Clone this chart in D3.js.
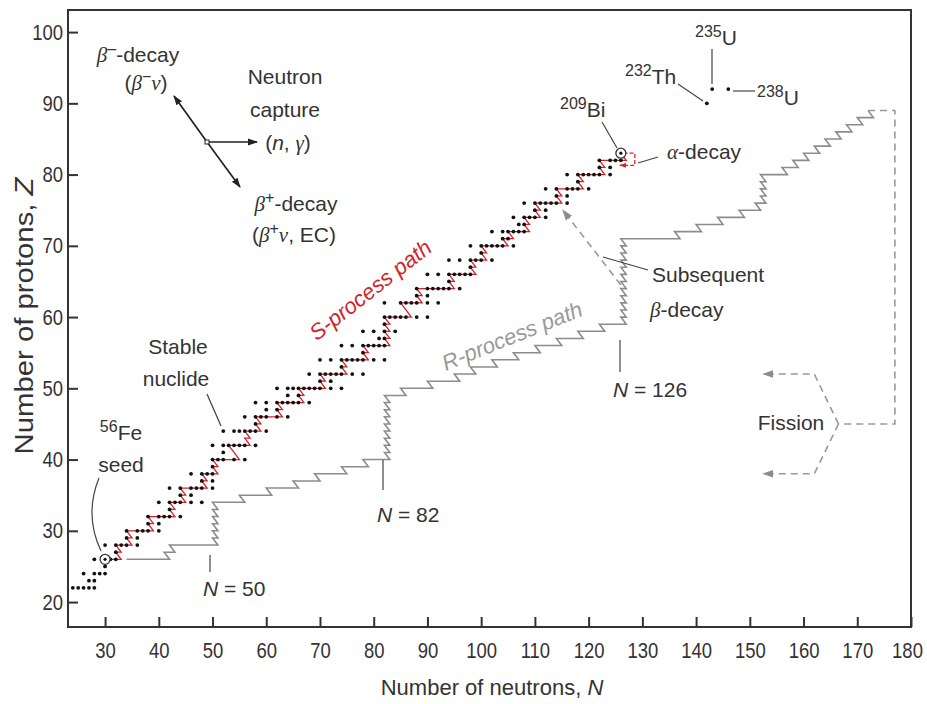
<!DOCTYPE html>
<html>
<head>
<meta charset="utf-8">
<title>s-process and r-process paths</title>
<script src="https://d3js.org/d3.v7.min.js"></script>
<style>
body { margin: 0; background: #fff; }
svg text { font-family: "Liberation Sans", Arial, sans-serif; fill: #333; font-size: 21px; }
svg .gr { font-family: "Liberation Serif", "Times New Roman", serif; font-style: italic; }
</style>
</head>
<body>
<div id="chart"></div>
<script>
// stable nuclides, one list of neutron numbers per element
var stableZ = [22, 23, 24, 25, 26, 27, 28, 29, 30, 31, 32, 33, 34, 35, 36, 37, 38, 39, 40, 41, 42,
  44, 45, 46, 47, 48, 49, 50, 51, 52, 53, 54, 55, 56, 57, 58, 59, 60, 62, 63, 64, 65, 66, 67, 68,
  69, 70, 71, 72, 73, 74, 75, 76, 77, 78, 79, 80, 81, 82, 83];
var stableN = [
  [24, 25, 26, 27, 28], [27, 28], [26, 28, 29, 30], [30], [28, 30, 31, 32], [32], [30, 32, 33, 34, 36],
  [34, 36], [34, 36, 37, 38, 40], [38, 40], [38, 40, 41, 42, 44], [42], [40, 42, 43, 44, 46, 48],
  [44, 46], [42, 44, 46, 47, 48, 50], [48, 50], [46, 48, 49, 50], [50], [50, 51, 52, 54, 56], [52],
  [50, 52, 53, 54, 55, 56, 58],
  [52, 54, 55, 56, 57, 58, 60], [58], [56, 58, 59, 60, 62, 64], [60, 62], [58, 60, 62, 63, 64, 65, 66, 68],
  [64, 66], [62, 64, 65, 66, 67, 68, 69, 70, 72, 74], [70, 72], [68, 70, 71, 72, 73, 74, 76, 78], [74],
  [70, 72, 74, 75, 76, 77, 78, 80, 82], [78], [74, 76, 78, 79, 80, 81, 82], [81, 82], [78, 80, 82, 84],
  [82], [82, 83, 84, 85, 86, 88, 90], [82, 85, 86, 87, 88, 90, 92], [88, 90], [88, 90, 91, 92, 93, 94, 96],
  [94], [90, 92, 94, 95, 96, 97, 98], [98], [94, 96, 98, 99, 100, 102],
  [100], [98, 100, 101, 102, 103, 104, 106], [104, 105], [102, 104, 105, 106, 107, 108], [107, 108],
  [106, 108, 109, 110, 112], [110, 112], [108, 110, 111, 112, 113, 114, 116], [114, 116],
  [112, 114, 116, 117, 118, 120], [118], [116, 118, 119, 120, 121, 122, 124], [122, 124],
  [122, 124, 125, 126], [126]];

// long-lived actinides: 232Th, 235U, 238U
var actinideN = [142, 143, 146];
var actinideZ = [90, 92, 92];

// s-process path: neutron captures along each row, then beta decay to the next row
var sRowZ = [26, 27, 28, 29, 30, 31, 32, 33, 34, 35, 36, 37, 38, 39, 40, 41, 42, 43, 44, 45, 46, 47,
  48, 49, 50, 51, 52, 53, 54, 55, 56, 57, 58, 59, 60, 61, 62, 63, 64, 65, 66, 67, 68, 69, 70, 71,
  72, 73, 74, 75, 76, 77, 78, 79, 80, 81, 82, 83];
var sRowNIn = [30, 32, 32, 34, 34, 38, 38, 42, 42, 44, 44, 48, 48, 50, 50, 54, 53, 56, 56, 58, 58, 62,
  62, 66, 66, 70, 70, 74, 74, 78, 78, 82, 82, 82, 82, 86, 85, 88, 88, 94, 94, 98, 98, 100, 100, 104,
  105, 108, 108, 110, 110, 114, 114, 118, 118, 122, 122, 126];
var sRowNOut = [33, 33, 35, 35, 39, 39, 43, 43, 45, 45, 49, 49, 51, 51, 55, 54, 57, 57, 59, 59, 63, 63,
  67, 67, 71, 71, 75, 75, 79, 79, 83, 83, 83, 83, 87, 86, 89, 89, 95, 95, 99, 99, 101, 101, 105, 106,
  109, 109, 111, 111, 115, 115, 119, 119, 123, 123, 127, 126];

// r-process path
var rRowZ = [26, 27, 28, 29, 30, 31, 32, 33, 34, 35, 36, 37, 38, 39, 40, 41, 42, 43, 44, 45, 46, 47,
  48, 49, 50, 51, 52, 53, 54, 55, 56, 57, 58, 59, 60, 61, 62, 63, 64, 65, 66, 67, 68, 69, 70, 71,
  72, 73, 74, 75, 76, 77, 78, 79, 80, 81, 82, 83, 84, 85, 86, 87, 88];
var rRowNIn = [34, 41, 42, 50, 50, 50, 50, 50, 50, 55, 60, 65, 69, 74, 78, 82, 82, 82, 82, 82, 82, 82,
  82, 82, 85, 90, 95, 98, 102, 106, 110, 114, 118, 122, 126, 126, 126, 126, 126, 126, 126, 126, 126, 126, 126, 126,
  136, 140, 144, 148, 151, 152, 152, 152, 152, 156, 158, 160, 162, 164, 166, 168, 170];
var rRowNOut = [42, 43, 51, 51, 51, 51, 51, 51, 56, 61, 66, 70, 75, 79, 83, 83, 83, 83, 83, 83, 83, 83,
  83, 86, 91, 96, 99, 103, 107, 111, 115, 119, 123, 127, 127, 127, 127, 127, 127, 127, 127, 127, 127, 127, 127, 137,
  141, 145, 149, 152, 153, 153, 153, 153, 157, 159, 161, 163, 165, 167, 169, 171, 173];
var rEnd = [172, 89];

// fission return (dashed) and the two fragments
var fissionN = [172, 177, 177, 166.5];
var fissionZ = [89, 89, 45, 45];
var fragN = [166.5, 162, 152.5];
var fragUpZ = [45, 52, 52];
var fragDownZ = [45, 38, 38];

// subsequent beta decay arrow, alpha-decay loop at Bi
var betaArrowN = [126, 115.2];
var betaArrowZ = [64.5, 75];
var alphaN = [126.5, 128.6, 128.6, 125.8];
var alphaZ = [83, 83, 81.3, 81.3];
var seeds = [[30, 26], [126, 83]];

var xTicks = [30, 40, 50, 60, 70, 80, 90, 100, 110, 120, 130, 140, 150, 160, 170, 180];
var yTicks = [20, 30, 40, 50, 60, 70, 80, 90, 100];

var width = 927, height = 704;
var x = d3.scaleLinear().domain([23.1, 180]).range([68, 911]);
var y = d3.scaleLinear().domain([16.5, 103.1]).range([627, 10]);

var svg = d3.select("#chart").append("svg")
  .attr("width", width).attr("height", height);

var defs = svg.append("defs");
function marker(id, color, size) {
  defs.append("marker").attr("id", id)
    .attr("viewBox", "0 0 10 10").attr("refX", 9).attr("refY", 5)
    .attr("markerWidth", size).attr("markerHeight", size)
    .attr("markerUnits", "userSpaceOnUse")
    .attr("orient", "auto")
    .append("path").attr("d", "M0,1.5 L10,5 L0,8.5 Z").attr("fill", color);
}
marker("arBlack", "#222", 10);
marker("arGray", "#8c8c8c", 11);
marker("arRed", "#d2232a", 7);

var line = d3.line().x(function(d) { return x(d[0]); }).y(function(d) { return y(d[1]); });

function rowsToPoints(zs, nIn, nOut) {
  var pts = [];
  zs.forEach(function(z, i) {
    pts.push([nIn[i], z]);
    if (nOut[i] !== nIn[i]) pts.push([nOut[i], z]);
  });
  return pts;
}

// squeeze a text horizontally (the reference uses a condensed face)
function squeeze(sel, k) {
  sel.each(function() {
    var w = this.getComputedTextLength();
    d3.select(this).attr("textLength", w * k).attr("lengthAdjust", "spacingAndGlyphs");
  });
}

// axes, inward ticks
var xAxis = d3.axisBottom(x).tickValues(xTicks).tickSize(-10).tickPadding(15);
var yAxis = d3.axisLeft(y).tickValues(yTicks).tickSize(-10).tickPadding(5);

var gx = svg.append("g").attr("transform", "translate(0,627)").call(xAxis);
var gy = svg.append("g").attr("transform", "translate(68,0)").call(yAxis);
[gx, gy].forEach(function(g) {
  g.attr("font-family", null).attr("font-size", null);
  g.select(".domain").remove();
  g.selectAll(".tick line").attr("stroke", "#333").attr("stroke-width", 2);
  var t = g.selectAll(".tick text").attr("fill", "#333").style("font-size", "22px");
  squeeze(t, 0.84);
});
// last label sits on the frame edge; keep it inside the page
gx.selectAll(".tick text").filter(function(d) { return d === 180; }).attr("x", -4);

svg.append("rect").attr("x", 68).attr("y", 10).attr("width", 911 - 68).attr("height", 627 - 10)
  .attr("fill", "none").attr("stroke", "#333").attr("stroke-width", 2);

// r-process path
var rPts = rowsToPoints(rRowZ, rRowNIn, rRowNOut);
rPts.push(rEnd);
svg.append("path").attr("d", line(rPts))
  .attr("fill", "none").attr("stroke", "#8c8c8c").attr("stroke-width", 1.6)
  .attr("stroke-linejoin", "miter");

var dashed = { stroke: "#999", "stroke-width": 1.6, "stroke-dasharray": "7,5", fill: "none" };
function styled(sel, st) { Object.keys(st).forEach(function(k) { sel.attr(k, st[k]); }); return sel; }

styled(svg.append("path").attr("d", line(fissionN.map(function(n, i) { return [n, fissionZ[i]]; }))), dashed);
styled(svg.append("path").attr("d", line(fragN.map(function(n, i) { return [n, fragUpZ[i]]; }))), dashed)
  .attr("marker-end", "url(#arGray)");
styled(svg.append("path").attr("d", line(fragN.map(function(n, i) { return [n, fragDownZ[i]]; }))), dashed)
  .attr("marker-end", "url(#arGray)");
styled(svg.append("path").attr("d", line(betaArrowN.map(function(n, i) { return [n, betaArrowZ[i]]; }))), dashed)
  .attr("marker-end", "url(#arGray)");

// s-process path
var sPts = rowsToPoints(sRowZ, sRowNIn, sRowNOut);
svg.append("path").attr("d", line(sPts))
  .attr("fill", "none").attr("stroke", "#d2232a").attr("stroke-width", 1.3);
svg.append("path").attr("d", line(alphaN.map(function(n, i) { return [n, alphaZ[i]]; })))
  .attr("fill", "none").attr("stroke", "#d2232a").attr("stroke-width", 1.3)
  .attr("stroke-dasharray", "4,2").attr("marker-end", "url(#arRed)");

// stable nuclides
var dots = [];
stableZ.forEach(function(z, i) { stableN[i].forEach(function(n) { dots.push([n, z]); }); });
actinideN.forEach(function(n, i) { dots.push([n, actinideZ[i]]); });
svg.append("g").selectAll("circle").data(dots).enter().append("circle")
  .attr("cx", function(d) { return x(d[0]); })
  .attr("cy", function(d) { return y(d[1]); })
  .attr("r", 1.9).attr("fill", "#111");

svg.append("g").selectAll("circle").data(seeds).enter().append("circle")
  .attr("cx", function(d) { return x(d[0]); })
  .attr("cy", function(d) { return y(d[1]); })
  .attr("r", 5).attr("fill", "#fff").attr("stroke", "#333").attr("stroke-width", 1.3);
svg.append("g").selectAll("circle").data(seeds).enter().append("circle")
  .attr("cx", function(d) { return x(d[0]); })
  .attr("cy", function(d) { return y(d[1]); })
  .attr("r", 1.6).attr("fill", "#111");

// text helper: parts are [string, kind] with kind "", "i", "g" (greek italic), "sup"
function rich(px, py, parts, anchor, color) {
  var t = svg.append("text").attr("x", px).attr("y", py).attr("text-anchor", anchor || "middle");
  if (color) t.style("fill", color);
  var shift = 0;
  parts.forEach(function(p) {
    var ts = t.append("tspan").text(p[0]);
    var want = p[1] === "sup" ? -8 : 0;
    if (p[1] === "sup") ts.style("font-size", "16px");
    if (want !== shift) { ts.attr("dy", want - shift); shift = want; }
    if (p[1] === "i") ts.style("font-style", "italic");
    if (p[1] === "g") ts.attr("class", "gr");
  });
  return t;
}
function seg(x1, y1, x2, y2, color, w) {
  return svg.append("line").attr("x1", x1).attr("y1", y1).attr("x2", x2).attr("y2", y2)
    .attr("stroke", color || "#444").attr("stroke-width", w || 1.2);
}

// decay-direction key
seg(207, 142, 174, 96, "#222", 1.7).attr("marker-end", "url(#arBlack)");
seg(207, 142, 240, 187, "#222", 1.7).attr("marker-end", "url(#arBlack)");
seg(207, 142, 257, 142, "#222", 1.7).attr("marker-end", "url(#arBlack)");
svg.append("rect").attr("x", 205).attr("y", 140).attr("width", 4).attr("height", 4)
  .attr("fill", "#fff").attr("stroke", "#222").attr("stroke-width", 1);
rich(138, 62, [["β", "g"], ["\u2013", "sup"], ["-decay", ""]]);
rich(146, 90, [["(", ""], ["β", "g"], ["\u2212", "sup"], ["ν", "g"], [")", ""]]);
rich(285, 84, [["Neutron", ""]]);
rich(285, 117, [["capture", ""]]);
rich(288, 150, [["(", ""], ["n", "i"], [", ", ""], ["γ", "g"], [")", ""]]);
rich(296, 211, [["β", "g"], ["+", "sup"], ["-decay", ""]]);
rich(294, 242, [["(", ""], ["β", "g"], ["+", "sup"], ["ν", "g"], [", EC)", ""]]);

// annotations
rich(121, 440, [["56", "sup"], ["Fe", ""]]);
rich(121, 472, [["seed", ""]]);
svg.append("path").attr("d", "M99,478 Q84,515 101,551").attr("fill", "none")
  .attr("stroke", "#444").attr("stroke-width", 1.2);

rich(178, 354, [["Stable", ""]]);
rich(176, 386, [["nuclide", ""]]);
seg(207, 394, 221, 426);

rich(203, 596, [["N", "i"], [" = 50", ""]], "start");
seg(210, 555, 210, 572);
rich(377, 522, [["N", "i"], [" = 82", ""]], "start");
seg(383, 460, 383, 490);
rich(613, 397, [["N", "i"], [" = 126", ""]], "start");
seg(620, 340, 620, 372);

rich(560, 117, [["209", "sup"], ["Bi", ""]], "start");
seg(602, 122, 617, 148);
rich(667, 159, [["α", "g"], ["-decay", ""]], "start");
seg(638, 163, 658, 157);
rich(625, 84, [["232", "sup"], ["Th", ""]], "start");
seg(678, 84, 703, 101);
rich(695, 45, [["235", "sup"], ["U", ""]], "start");
seg(712, 49, 712, 84);
rich(757, 105, [["238", "sup"], ["U", ""]], "start");
seg(733, 91, 755, 91);

rich(652, 282, [["Subsequent", ""]], "start");
rich(650, 317, [["β", "g"], ["-decay", ""]], "start");
seg(648, 270, 603, 257);

rich(791, 430, [["Fission", ""]]);

svg.append("text").attr("transform", "translate(375,296) rotate(-38)")
  .attr("text-anchor", "middle").style("fill", "#d2232a").style("font-style", "italic")
  .style("font-size", "22px").text("S-process path");
svg.append("text").attr("transform", "translate(515,343) rotate(-22)")
  .attr("text-anchor", "middle").style("fill", "#999").style("font-style", "italic")
  .style("font-size", "22px").text("R-process path");

// axis titles
rich(492, 695, [["Number of neutrons, ", ""], ["N", "i"]]).style("font-size", "22px");
var yt = rich(0, 0, [["Number of protons, ", ""], ["Z", "i"]]).style("font-size", "26px");
yt.attr("transform", "translate(33,316) rotate(-90)")
  .attr("textLength", 277).attr("lengthAdjust", "spacingAndGlyphs");
</script>
</body>
</html>
